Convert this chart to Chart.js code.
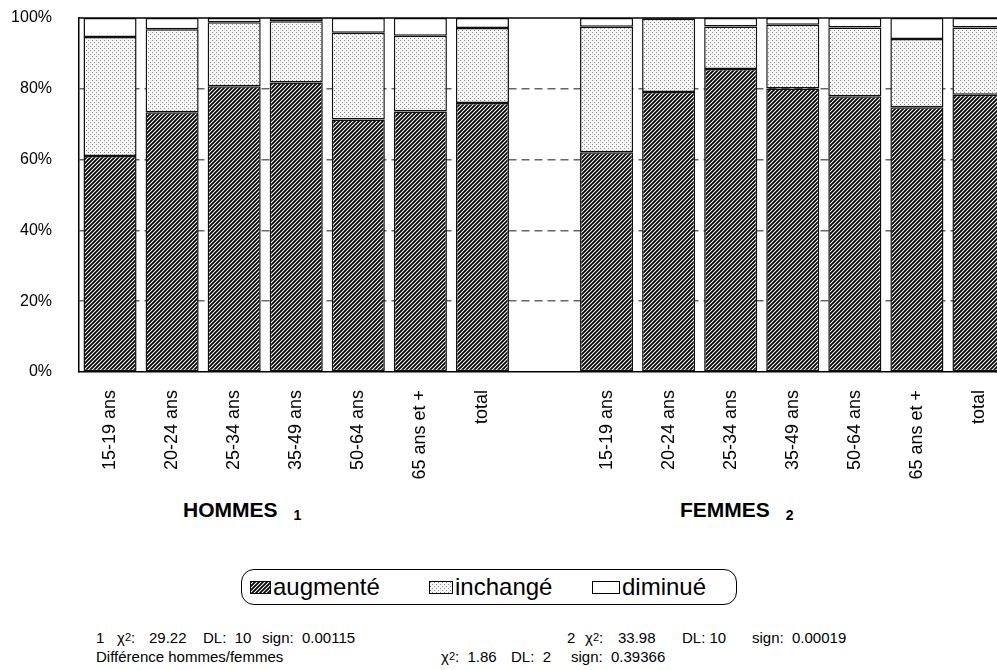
<!DOCTYPE html>
<html lang="fr">
<head>
<meta charset="utf-8">
<title>augmenté / inchangé / diminué</title>
<script src="https://cdn.jsdelivr.net/npm/chart.js@4"></script>
<style>
    html, body { margin: 0; padding: 0; background: #fff; overflow: hidden; }
    body { width: 997px; height: 670px; position: relative; font-family: "Liberation Sans", Arial, sans-serif; color: #000; }
    #wrap { position: absolute; left: 0; top: 0; width: 1010px; height: 490px; }
    .group { position: absolute; top: 498px; font-weight: bold; font-size: 21px; white-space: nowrap; }
    .group span { font-size: 14px; margin-left: 16px; position: relative; top: 3px; }
    #legend { position: absolute; left: 241px; top: 569px; width: 496px; height: 36px; box-sizing: border-box;
              border: 1.5px solid #000; border-radius: 13px; display: flex; align-items: center; font-size: 24px; padding-left: 8px; }
    #legend .item { display: flex; align-items: center; white-space: nowrap; }
    #legend .item:nth-child(1) { width: 179px; }
    #legend .item:nth-child(2) { width: 163px; }
    #legend .box { display: inline-block; width: 19px; height: 11px; border: 1px solid #000; margin-right: 2px; }
    #legend .item:nth-child(2) .box { width: 22px; }
    #legend .item:nth-child(3) .box { width: 26px; }
    .note { position: absolute; font-size: 15px; white-space: pre; }
    .note small { font-size: 11px; position: relative; top: -2px; }
</style>
</head>
<body>
<div id="wrap"><canvas id="bar-chartcanvas"></canvas></div>
<div class="group" style="left:183px">HOMMES<span>1</span></div>
<div class="group" style="left:680px">FEMMES<span>2</span></div>
<div id="legend"></div>

<!-- footnote 1 -->
<div class="note" style="left:96px; top:629px">1</div>
<div class="note" style="left:117px; top:629px">χ<small>2</small>:</div>
<div class="note" style="left:149px; top:629px">29.22</div>
<div class="note" style="left:203px; top:629px">DL:  10</div>
<div class="note" style="left:262px; top:629px">sign:  0.00115</div>
<!-- footnote 2 -->
<div class="note" style="left:567px; top:629px">2</div>
<div class="note" style="left:585px; top:629px">χ<small>2</small>:</div>
<div class="note" style="left:618px; top:629px">33.98</div>
<div class="note" style="left:682px; top:629px">DL: 10</div>
<div class="note" style="left:752px; top:629px">sign:  0.00019</div>
<!-- difference -->
<div class="note" style="left:96px; top:648px">Différence hommes/femmes</div>
<div class="note" style="left:441px; top:648px">χ<small>2</small>:  1.86</div>
<div class="note" style="left:511px; top:648px">DL:  2</div>
<div class="note" style="left:571px; top:648px">sign:  0.39366</div>

<script>
//Categories (the empty one is the gap between hommes and femmes)
var categories = ["15-19 ans", "20-24 ans", "25-34 ans", "35-49 ans", "50-64 ans", "65 ans et +", "total", "",
                  "15-19 ans", "20-24 ans", "25-34 ans", "35-49 ans", "50-64 ans", "65 ans et +", "total"];

//Shares in % (hommes 1-7, gap, femmes 9-15)
var augmente = [61.0, 73.4, 80.7, 81.8, 71.3, 73.6, 76.0, null, 62.1, 79.1, 85.6, 80.1, 77.9, 74.8, 78.3];
var inchange = [33.6, 23.4, 18.1, 17.3, 24.5, 21.4, 21.2, null, 35.4, 20.7, 12.0, 18.0, 19.4, 19.3, 19.0];
var diminue  = [5.4, 3.2, 1.2, 0.9, 4.2, 5.0, 2.8, null, 2.5, 0.2, 2.4, 1.9, 2.7, 5.9, 2.7];

//Y ticks
var yTicks = [0, 20, 40, 60, 80, 100];

//Fill patterns
function makeTile(draw) {
    var c = document.createElement("canvas");
    c.width = 4;
    c.height = 4;
    draw(c.getContext("2d"));
    return c;
}

var hatchTile = makeTile(function (g) {
    g.fillStyle = "#fff";
    g.fillRect(0, 0, 4, 4);
    g.strokeStyle = "#000";
    g.lineWidth = 1.8;
    g.beginPath();
    g.moveTo(-1, 5); g.lineTo(5, -1);
    g.moveTo(-1, 1); g.lineTo(1, -1);
    g.moveTo(3, 5); g.lineTo(5, 3);
    g.stroke();
});

var dotTile = makeTile(function (g) {
    g.fillStyle = "#f6f6f6";
    g.fillRect(0, 0, 4, 4);
    g.fillStyle = "#8a8a8a";
    g.fillRect(0, 0, 1, 1);
    g.fillRect(2, 2, 1, 1);
});

var plainTile = makeTile(function (g) {
    g.fillStyle = "#fff";
    g.fillRect(0, 0, 4, 4);
});

var ctx = document.getElementById("bar-chartcanvas").getContext("2d");

//Chart data
var data = {
    labels: categories,
    datasets: [
        {
            label: "augmenté",
            data: augmente,
            backgroundColor: ctx.createPattern(hatchTile, "repeat"),
            tile: hatchTile
        },
        {
            label: "inchangé",
            data: inchange,
            backgroundColor: ctx.createPattern(dotTile, "repeat"),
            tile: dotTile
        },
        {
            label: "diminué",
            data: diminue,
            backgroundColor: "#fff",
            tile: plainTile
        }
    ]
};

data.datasets.forEach(function (ds) {
    ds.borderColor = "#111";
    ds.borderWidth = 1.5;
    ds.borderSkipped = false;
    ds.barPercentage = 0.855;
    ds.categoryPercentage = 1;
});

//Line along the top of the plot
var topLine = {
    id: "topLine",
    afterDatasetsDraw: function (chart) {
        var a = chart.chartArea;
        var c = chart.ctx;
        c.save();
        c.strokeStyle = "#000";
        c.lineWidth = 1.5;
        c.beginPath();
        c.moveTo(a.left, a.top);
        c.lineTo(a.right, a.top);
        c.stroke();
        c.restore();
    }
};

//Options
var options = {
    responsive: true,
    maintainAspectRatio: false,
    animation: false,
    layout: { padding: { top: 18, left: 0, right: 0, bottom: 0 } },
    plugins: {
        legend: { display: false },
        tooltip: { enabled: false }
    },
    scales: {
        x: {
            stacked: true,
            grid: { display: false },
            border: { display: true, color: "#000", width: 1.5 },
            ticks: {
                autoSkip: false,
                minRotation: 90,
                maxRotation: 90,
                padding: 10,
                color: "#000",
                font: { family: "'Liberation Sans', Arial, sans-serif", size: 18 }
            },
            afterFit: function (scale) {
                scale.height = 118;
                scale.paddingLeft = 0;
                scale.paddingRight = 0;
            }
        },
        y: {
            stacked: true,
            min: 0,
            max: 100,
            afterBuildTicks: function (scale) {
                scale.ticks = yTicks.map(function (v) { return { value: v }; });
            },
            grid: {
                drawTicks: false,
                lineWidth: 1.5,
                color: function (c) {
                    var v = c.tick ? c.tick.value : 0;
                    return (v === 0 || v === 100) ? "rgba(0,0,0,0)" : "#666";
                }
            },
            border: { display: true, color: "#000", width: 1.5, dash: [8, 5] },
            ticks: {
                padding: 27,
                color: "#000",
                font: { family: "'Liberation Sans', Arial, sans-serif", size: 16 },
                callback: function (v) { return v + "%"; }
            },
            afterFit: function (scale) {
                scale.width = 79;
                scale.paddingTop = 0;
                scale.paddingBottom = 0;
            }
        }
    }
};

//Creates Bar Chart Object
var chart = new Chart(ctx, {
    type: "bar",
    data: data,
    options: options,
    plugins: [topLine]
});

//Legend built from the datasets
var legend = document.getElementById("legend");
chart.data.datasets.forEach(function (ds) {
    var item = document.createElement("div");
    item.className = "item";
    var box = document.createElement("span");
    box.className = "box";
    box.style.backgroundImage = "url(" + ds.tile.toDataURL() + ")";
    item.appendChild(box);
    item.appendChild(document.createTextNode(ds.label));
    legend.appendChild(item);
});
</script>
</body>
</html>
